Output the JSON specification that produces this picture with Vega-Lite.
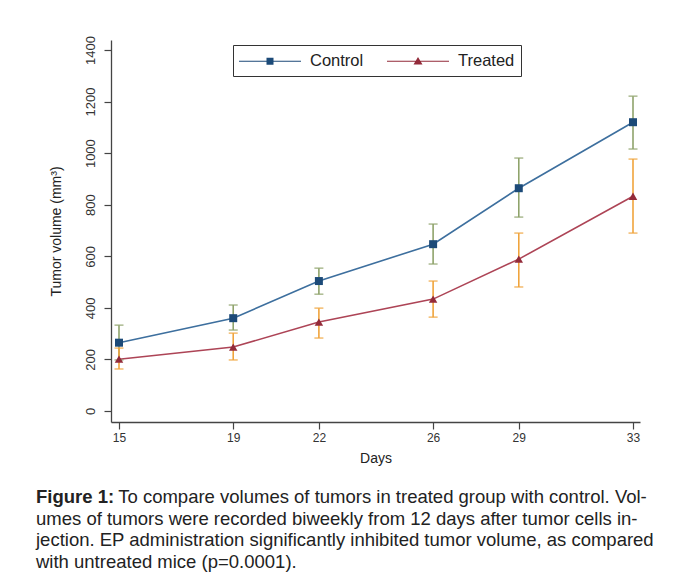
{
  "$schema": "https://vega.github.io/schema/vega-lite/v6.json",
  "width": 529,
  "height": 382,
  "autosize": "none",
  "padding": {"left": 111, "top": 40, "right": 37, "bottom": 150},
  "background": "white",
  "config": {
    "view": {"stroke": null},
    "font": "Liberation Sans",
    "axis": {
      "domainColor": "#444",
      "tickColor": "#444",
      "domainWidth": 1.3,
      "tickWidth": 1.2,
      "tickSize": 7,
      "labelColor": "#333",
      "titleColor": "#222",
      "labelFont": "Liberation Sans",
      "titleFont": "Liberation Sans",
      "titleFontWeight": "normal",
      "grid": false
    },
    "legend": {
      "orient": "none",
      "legendX": 122,
      "legendY": 5,
      "direction": "horizontal",
      "strokeColor": "#333",
      "fillColor": "white",
      "padding": 6,
      "symbolSize": 400,
      "symbolOpacity": 1,
      "labelFontSize": 16.5,
      "labelFont": "Liberation Sans",
      "labelColor": "#222",
      "labelOffset": 51,
      "columnPadding": 23
    }
  },
  "title": {
    "text": "Figure 1:",
    "orient": "bottom",
    "anchor": "start",
    "frame": "bounds",
    "offset": 23,
    "dx": -13,
    "font": "Liberation Sans",
    "fontSize": 18.5,
    "fontWeight": "bold",
    "color": "#222",
    "subtitle": [
      "\u200b\u00a0\u00a0\u00a0\u00a0\u00a0\u00a0\u00a0\u00a0\u00a0\u00a0\u00a0\u00a0\u00a0\u00a0\u00a0\u00a0To compare volumes of tumors in treated group with control. Vol-",
      "umes of tumors were recorded biweekly from 12 days after tumor cells in-",
      "jection. EP administration significantly inhibited tumor volume, as compared",
      "with untreated mice (p=0.0001)."
    ],
    "subtitleFont": "Liberation Sans",
    "subtitleFontSize": 18.5,
    "subtitleColor": "#222",
    "subtitleLineHeight": 21.7,
    "subtitlePadding": -18.5
  },
  "data": {
    "values": [
      {"day": 15, "group": "Control", "mean": 265, "lo": 198, "hi": 333},
      {"day": 19, "group": "Control", "mean": 360, "lo": 314, "hi": 411},
      {"day": 22, "group": "Control", "mean": 504, "lo": 453, "hi": 554},
      {"day": 26, "group": "Control", "mean": 647, "lo": 570, "hi": 725},
      {"day": 29, "group": "Control", "mean": 864, "lo": 752, "hi": 981},
      {"day": 33, "group": "Control", "mean": 1120, "lo": 1016, "hi": 1221},
      {"day": 15, "group": "Treated", "mean": 201, "lo": 163, "hi": 244},
      {"day": 19, "group": "Treated", "mean": 248, "lo": 198, "hi": 302},
      {"day": 22, "group": "Treated", "mean": 345, "lo": 283, "hi": 399},
      {"day": 26, "group": "Treated", "mean": 434, "lo": 364, "hi": 504},
      {"day": 29, "group": "Treated", "mean": 589, "lo": 481, "hi": 690},
      {"day": 33, "group": "Treated", "mean": 833, "lo": 690, "hi": 977}
    ]
  },
  "encoding": {
    "x": {
      "field": "day",
      "type": "quantitative",
      "title": "Days",
      "scale": {"domain": [14.72, 33.245], "nice": false, "zero": false},
      "axis": {
        "values": [15, 19, 22, 26, 29, 33],
        "labelFontSize": 12,
        "titleFontSize": 14,
        "labelPadding": 3,
        "titlePadding": 8
      }
    }
  },
  "layer": [
    {
      "mark": {"type": "line", "strokeWidth": 1.6},
      "encoding": {
        "y": {
          "field": "mean",
          "type": "quantitative",
          "title": "Tumor volume (mm³)",
          "scale": {"domain": [-42.6, 1438.8], "nice": false, "zero": false},
          "axis": {
            "values": [0, 200, 400, 600, 800, 1000, 1200, 1400],
            "format": "d",
            "labelAngle": -90,
            "labelAlign": "center",
            "labelBaseline": "bottom",
            "labelFontSize": 13,
            "labelPadding": 7,
            "titleFontSize": 14,
            "titlePadding": 21
          }
        },
        "color": {
          "field": "group",
          "type": "nominal",
          "title": null,
          "scale": {"domain": ["Control", "Treated"], "range": ["#3d6f9e", "#ad4456"]},
          "legend": {
            "title": null,
            "encode": {
              "symbols": {
                "update": {
                  "shape": {"signal": "datum.value === 'Control' ? 'M-1,-0.06H5.2V0.06H-1Z M1.75,-0.35H2.45V0.35H1.75Z' : 'M-1,-0.06H5.2V0.06H-1Z M2.1,-0.42L2.55,0.32H1.65Z'"},
                  "fill": {"signal": "datum.value === 'Control' ? '#1c4a78' : '#932b3a'"},
                  "strokeWidth": {"value": 0}
                }
              }
            }
          }
        }
      }
    },
    {
      "transform": [{"filter": "datum.group === 'Control'"}],
      "mark": {"type": "errorbar", "ticks": true, "color": "#8fa36b", "thickness": 1.6, "size": 9},
      "encoding": {
        "y": {"field": "lo", "type": "quantitative", "title": "Tumor volume (mm³)"},
        "y2": {"field": "hi"}
      }
    },
    {
      "transform": [{"filter": "datum.group === 'Treated'"}],
      "mark": {"type": "errorbar", "ticks": true, "color": "#f0a43c", "thickness": 1.6, "size": 9},
      "encoding": {
        "y": {"field": "lo", "type": "quantitative", "title": "Tumor volume (mm³)"},
        "y2": {"field": "hi"}
      }
    },
    {
      "transform": [{"filter": "datum.group === 'Control'"}],
      "mark": {"type": "point", "shape": "square", "filled": true, "opacity": 1, "size": 64, "fill": "#1c4a78"},
      "encoding": {
        "y": {"field": "mean", "type": "quantitative", "title": "Tumor volume (mm³)"}
      }
    },
    {
      "transform": [{"filter": "datum.group === 'Treated'"}],
      "mark": {"type": "point", "shape": "triangle-up", "filled": true, "opacity": 1, "size": 72, "fill": "#932b3a"},
      "encoding": {
        "y": {"field": "mean", "type": "quantitative", "title": "Tumor volume (mm³)"}
      }
    }
  ]
}
